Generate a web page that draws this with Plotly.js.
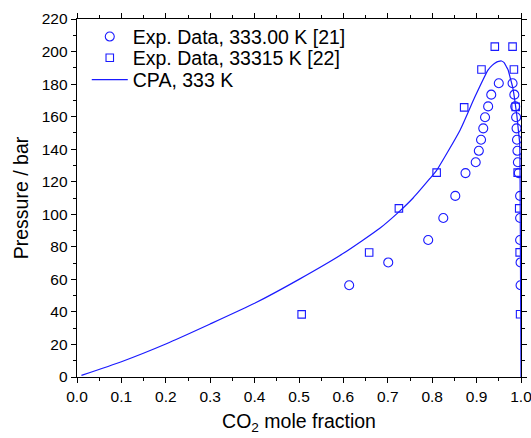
<!DOCTYPE html>
<html>
<head>
<meta charset="utf-8">
<script src="https://cdn.plot.ly/plotly-3.0.1.min.js"></script>
<style>html,body{margin:0;padding:0;background:#fff;}#chart{width:531px;height:438px;}</style>
</head>
<body>
<div id="chart"></div>
<script>
// Exp. Data, 333.00 K [21]
const exp21X = [0.613, 0.701, 0.791, 0.825, 0.852, 0.875, 0.898, 0.905, 0.910, 0.915, 0.919, 0.926, 0.933, 0.950,
                0.981, 0.985, 0.987, 0.989, 0.990, 0.991, 0.992, 0.993, 0.995, 0.998, 0.998, 0.998, 0.999, 0.999];
const exp21P = [56.4, 70.4, 84.2, 97.7, 111.3, 125.3, 132.0, 139.0, 145.8, 152.8, 159.6, 166.3, 173.5, 180.5,
                180.5, 173.5, 166.3, 159.6, 152.8, 145.8, 139.0, 132.0, 125.3, 111.3, 97.7, 84.2, 70.4, 56.4];
// Exp. Data, 33315 K [22]
const exp22X = [0.506, 0.658, 0.725, 0.810, 0.872, 0.911, 0.941,
                0.981, 0.984, 0.988, 0.9925, 0.996, 0.997, 0.998];
const exp22P = [38.5, 76.5, 103.6, 125.6, 165.7, 189.0, 203.0,
                203.0, 189.0, 166.0, 125.6, 103.6, 76.6, 38.6];
// CPA, 333 K
const cpaX = [0.01, 0.1, 0.2, 0.3, 0.4, 0.5, 0.6, 0.682, 0.725, 0.757, 0.795, 0.81, 0.863, 0.896, 0.926, 0.935,
              0.945, 0.95, 0.956, 0.962, 0.967, 0.971, 0.975, 0.981, 0.985, 0.988, 0.991, 0.994, 0.997, 0.998, 0.999, 1.0];
const cpaP = [1.0, 9.4, 20.3, 32.6, 45.3, 60.0, 76.0, 91.4, 101.5, 110.0, 122.0, 127.0, 151.8, 172.0, 188.7, 191.5,
              193.5, 194.0, 194.2, 193.2, 190.7, 188.7, 184.6, 178.4, 172.0, 166.0, 160.0, 151.8, 143.6, 120.0, 60.0, 0.0];

const xTicks = [0.0, 0.1, 0.2, 0.3, 0.4, 0.5, 0.6, 0.7, 0.8, 0.9, 1.0];
const xTickText = ["0.0", "0.1", "0.2", "0.3", "0.4", "0.5", "0.6", "0.7", "0.8", "0.9", "1.0"];

const blue = "#1a1aff";
const font = "Liberation Sans, Arial, sans-serif";

const traces = [
  {x: exp21X, y: exp21P, type: "scatter", mode: "markers", name: "Exp. Data, 333.00 K [21]", legend: "legend",
   marker: {symbol: "circle-open", size: 9, color: blue, line: {width: 1.1, color: blue}}},
  {x: exp22X, y: exp22P, type: "scatter", mode: "markers", name: "Exp. Data, 33315 K [22]", legend: "legend2",
   marker: {symbol: "square-open", size: 7.5, color: blue, line: {width: 1.1, color: blue}}},
  {x: cpaX, y: cpaP, type: "scatter", mode: "lines", name: "CPA, 333 K", legend: "legend3",
   line: {color: blue, width: 1.2, shape: "spline", smoothing: 0.5}}
];

const axisCommon = {
  showline: true, linecolor: "#000", linewidth: 1.3, mirror: "ticks",
  ticks: "outside", ticklen: 5, tickwidth: 1, tickcolor: "#000",
  showgrid: false, zeroline: false, ticklabeloverflow: "allow",
  tickfont: {family: font, size: 15.5, color: "#000"}
};

function legendAt(yPaper) {
  return {x: 0.022, y: yPaper, xanchor: "left", yanchor: "middle", bgcolor: "rgba(0,0,0,0)",
          font: {family: font, size: 19.5, color: "#000"}, itemwidth: 36, borderwidth: 0};
}

const layout = {
  width: 531, height: 438,
  margin: {l: 77, r: 10, t: 19, b: 61},
  paper_bgcolor: "#fff", plot_bgcolor: "#fff",
  font: {family: font, color: "#000"},
  showlegend: true,
  legend: legendAt(0.950),
  legend2: legendAt(0.891),
  legend3: legendAt(0.830),
  xaxis: Object.assign({}, axisCommon, {
    range: [0, 1], tickvals: xTicks, ticktext: xTickText,
    minor: {dtick: 0.05, ticks: "outside", ticklen: 3, tickcolor: "#000", showgrid: false},
    title: {text: "CO<sub>2</sub> mole fraction", font: {family: font, size: 19.5, color: "#000"}, standoff: 10}
  }),
  yaxis: Object.assign({}, axisCommon, {
    range: [0, 220], dtick: 20, tick0: 0,
    minor: {dtick: 10, ticks: "outside", ticklen: 3, tickcolor: "#000", showgrid: false},
    title: {text: "Pressure / bar", font: {family: font, size: 19.5, color: "#000"}, standoff: 8}
  })
};

Plotly.newPlot("chart", traces, layout, {displayModeBar: false, staticPlot: true});
</script>
</body>
</html>
